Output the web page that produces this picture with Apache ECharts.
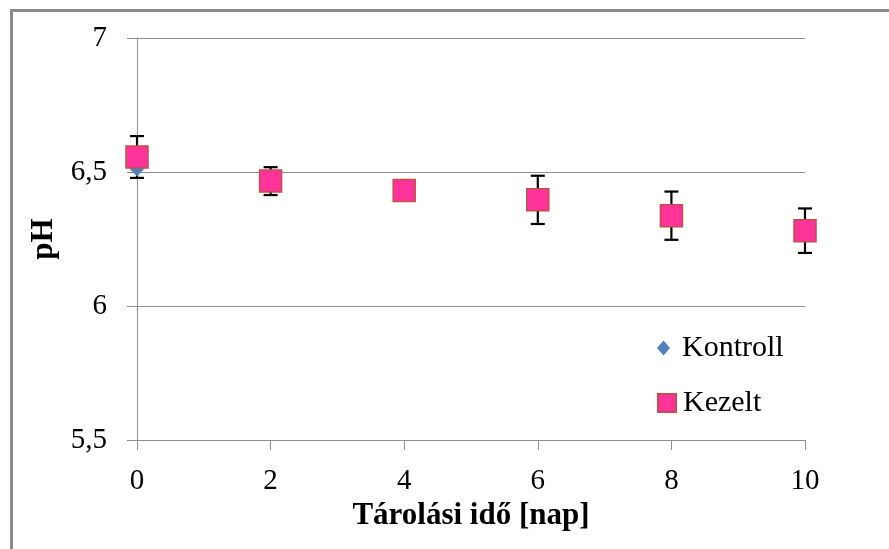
<!DOCTYPE html>
<html>
<head>
<meta charset="utf-8">
<script src="https://cdn.jsdelivr.net/npm/echarts@6/dist/echarts.min.js"></script>
<style>
  html, body { margin: 0; padding: 0; background: #fff; }
  #chart { width: 889px; height: 549px; }
</style>
</head>
<body>
<div id="chart"></div>
<script>
// Storage time in days
const days = [0, 2, 4, 6, 8, 10];
// pH of the control samples
const kontroll = [6.51, 6.466, 6.431, 6.396, 6.337, 6.281];
// pH of the treated samples and their standard deviation
const kezelt = [6.556, 6.466, 6.431, 6.396, 6.337, 6.281];
const kezeltErr = [0.078, 0.052, 0.03, 0.09, 0.09, 0.083];

const serif = '"Liberation Serif", "Times New Roman", serif';
const gridGray = '#8f8f8f';
const comma = v => String(v).replace('.', ',');

const chart = echarts.init(document.getElementById('chart'));

const errData = days.map((d, i) => [d, kezelt[i] - kezeltErr[i], kezelt[i] + kezeltErr[i]]);

chart.setOption({
  animation: false,
  backgroundColor: '#fff',
  graphic: [{
    type: 'rect',
    shape: { x: 11.5, y: 10.5, width: 900, height: 600 },
    style: { fill: 'none', stroke: '#8a8a8a', lineWidth: 3 },
    silent: true
  }],
  grid: { left: 137, right: 84, top: 38, bottom: 109 },
  xAxis: {
    type: 'value', min: 0, max: 10, interval: 2,
    name: 'Tárolási idő [nap]', nameLocation: 'middle', nameGap: 44,
    nameTextStyle: { fontFamily: serif, fontSize: 31, fontWeight: 'bold', color: '#000' },
    axisLine: { show: true, lineStyle: { color: gridGray, width: 1 } },
    axisTick: { show: true, length: 10, lineStyle: { color: gridGray } },
    axisLabel: { fontFamily: serif, fontSize: 29, color: '#000', margin: 27, formatter: comma },
    splitLine: { show: false }
  },
  yAxis: {
    type: 'value', min: 5.5, max: 7, interval: 0.5,
    name: 'pH', nameLocation: 'middle', nameGap: 78, nameRotate: 90,
    nameTextStyle: { fontFamily: serif, fontSize: 31, fontWeight: 'bold', color: '#000' },
    axisLine: { show: true, lineStyle: { color: gridGray, width: 1 } },
    axisTick: { show: true, length: 10, lineStyle: { color: gridGray } },
    axisLabel: { fontFamily: serif, fontSize: 29, color: '#000', margin: 30, formatter: comma },
    splitLine: { show: true, lineStyle: { color: gridGray, width: 1 } }
  },
  legend: [{
    data: [{ name: 'Kontroll', icon: 'diamond' }],
    orient: 'vertical', left: 657, top: 333, padding: 0,
    itemWidth: 13, itemHeight: 15,
    textStyle: { fontFamily: serif, fontSize: 30, color: '#000', padding: [0, 0, 0, 7] }
  }, {
    data: [{ name: 'Kezelt', icon: 'rect' }],
    orient: 'vertical', left: 657, top: 388, padding: 0,
    itemWidth: 18, itemHeight: 18,
    textStyle: { fontFamily: serif, fontSize: 30, color: '#000', padding: [0, 0, 0, 2] }
  }],
  series: [{
    type: 'custom',
    name: 'hiba',
    data: errData,
    z: 2,
    renderItem: (params, api) => {
      const x = api.value(0);
      const lo = api.coord([x, api.value(1)]);
      const hi = api.coord([x, api.value(2)]);
      const cap = 7;
      const style = { stroke: '#000', lineWidth: 2.2 };
      return {
        type: 'group',
        children: [
          { type: 'line', shape: { x1: lo[0], y1: lo[1], x2: hi[0], y2: hi[1] }, style },
          { type: 'line', shape: { x1: hi[0] - cap, y1: hi[1], x2: hi[0] + cap, y2: hi[1] }, style },
          { type: 'line', shape: { x1: lo[0] - cap, y1: lo[1], x2: lo[0] + cap, y2: lo[1] }, style }
        ]
      };
    }
  }, {
    type: 'scatter',
    name: 'Kontroll',
    data: days.map((d, i) => [d, kontroll[i]]),
    symbol: 'diamond',
    symbolSize: [14, 14],
    z: 3,
    itemStyle: { color: '#4F81BD', opacity: 1 }
  }, {
    type: 'scatter',
    name: 'Kezelt',
    data: days.map((d, i) => [d, kezelt[i]]),
    symbol: 'rect',
    symbolSize: 22,
    z: 4,
    itemStyle: { color: '#FF3399', borderColor: '#C0504D', borderWidth: 1.5, opacity: 1 }
  }]
});
</script>
</body>
</html>
